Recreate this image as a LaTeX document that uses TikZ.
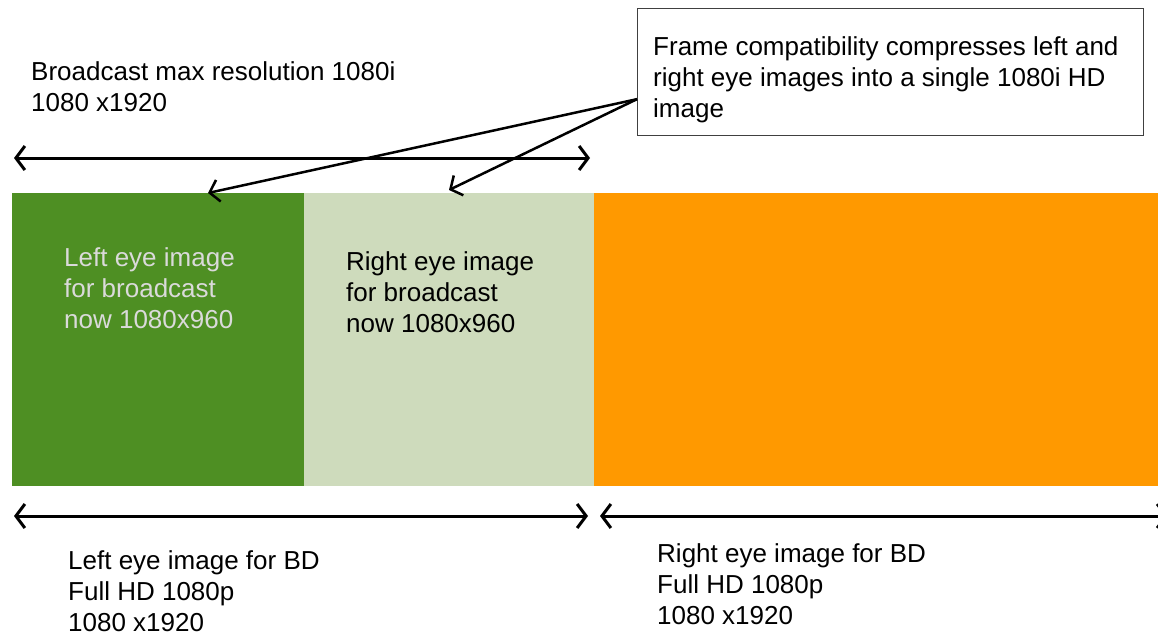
\documentclass[tikz,border=0pt]{standalone}
\usepackage{fontspec}
\setmainfont{Liberation Sans}
\usetikzlibrary{arrows.meta,calc}
\definecolor{dgreen}{HTML}{4E8F23}
\definecolor{lgreen}{HTML}{CEDBBC}
\definecolor{orng}{HTML}{FF9900}
\definecolor{ltext}{HTML}{DADADA}
\begin{document}
\begin{tikzpicture}[x=1pt,y=-1pt,
  lbl/.style={anchor=north west, inner sep=0pt, align=left,
              font=\fontsize{26}{31}\selectfont},
  blk/.style={anchor=north west, inner sep=0pt, draw=none},
  dim/.style={line width=3pt, {Straight Barb[length=9pt,width=24pt]}-{Straight Barb[length=9pt,width=24pt]}},
  ptr/.style={line width=2.5pt, -{Straight Barb[length=9pt,width=22pt]}},
  callbox/.style={anchor=north west, draw=black!75, line width=1.3pt, inner sep=0pt}]
\useasboundingbox (0,0) rectangle (1158,638);
% blocks
\node[blk, fill=dgreen, minimum width=292pt, minimum height=293pt] (L) at (12,193) {};
\node[blk, fill=lgreen, minimum width=290pt, minimum height=293pt] (R) at (304,193) {};
\node[blk, fill=orng, minimum width=570pt, minimum height=293pt] (O) at (594,193) {};
% texts
\node[lbl] (bc) at (31,61) {Broadcast max resolution 1080i\\1080 x1920};
\node[lbl, text=ltext] (lt) at (64,247) {Left eye image\\for broadcast\\now 1080x960};
\node[lbl] (rt) at (346,251) {Right eye image\\for broadcast\\now 1080x960};
\node[lbl] (bl) at (68,550) {Left eye image for BD\\Full HD 1080p\\1080 x1920};
\node[lbl] (br) at (657,543) {Right eye image for BD\\Full HD 1080p\\1080 x1920};
% callout
\node[callbox, minimum width=506pt, minimum height=127pt] (cb) at (637,8) {};
\node[lbl] (ct) at (653,36) {Frame compatibility compresses left and\\right eye images into a single 1080i HD\\image};
% coordinates
\coordinate (t1) at (14,158);
\coordinate (t2) at (590,158);
\coordinate (b1) at (14,516);
\coordinate (b2) at (588,516);
\coordinate (b3) at (600,516);
\coordinate (b4) at (1168,516);
\coordinate (src) at ($(cb.west)+(0,27)$);
\coordinate (tipL) at (208,193);
\coordinate (tipR) at (449,190);
% connectors
\draw[dim] (t1) -- (t2);
\draw[dim] (b1) -- (b2);
\draw[dim] (b3) -- (b4);
\draw[ptr] (src) -- (tipL);
\draw[ptr] (src) -- (tipR);
\end{tikzpicture}
\end{document}
